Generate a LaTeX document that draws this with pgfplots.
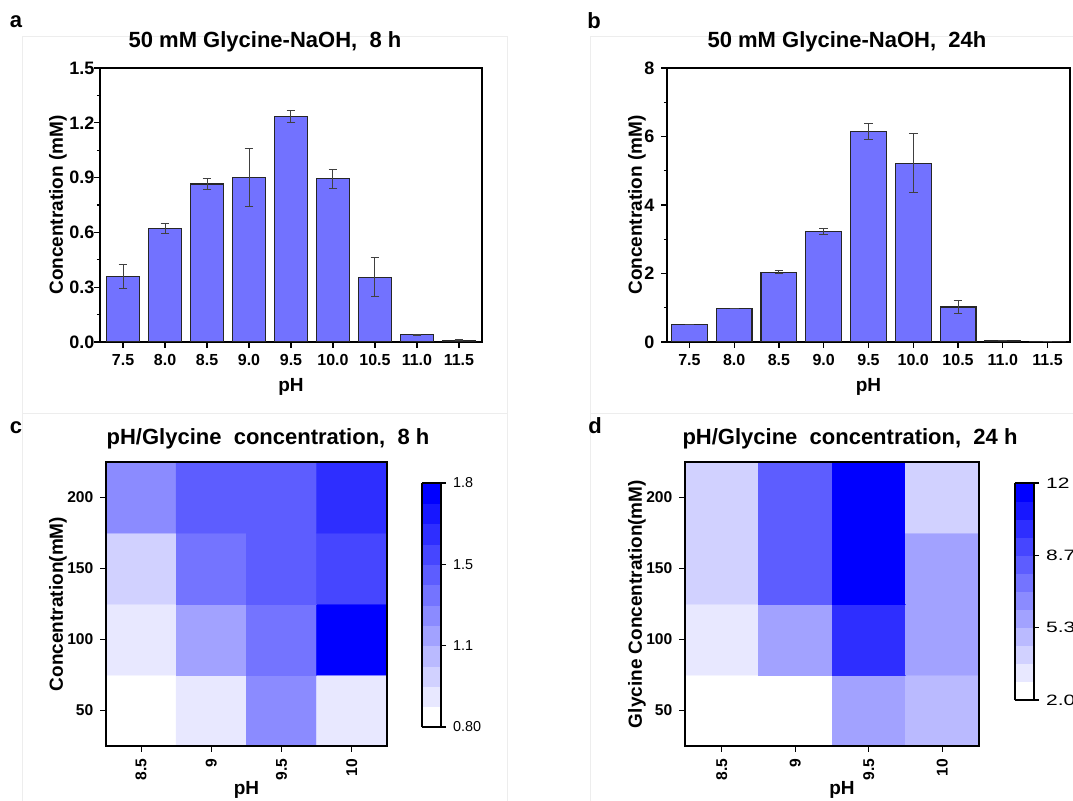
\documentclass[border=0pt]{standalone}
\usepackage{graphicx}
\usepackage{pgfplots}
\usepackage{pgfplotstable}
\pgfplotsset{compat=1.18}
\usepackage{fontspec}
\setmainfont{Liberation Sans}

\definecolor{barblue}{RGB}{114,114,255}

\pgfplotstableread{
x y err
0 0.36 0.065
1 0.62 0.028
2 0.865 0.03
3 0.90 0.16
4 1.235 0.035
5 0.895 0.052
6 0.355 0.105
7 0.04 0.003
8 0.01 0.004
}\dataA

\pgfplotstableread{
x y err
0 0.52 0.0
1 0.98 0.0
2 2.04 0.05
3 3.22 0.09
4 6.15 0.24
5 5.22 0.86
6 1.02 0.20
7 0.04 0.0
8 0.01 0.0
}\dataB

\pgfplotstableread{
x y c
8.5 50 0.84
9 50 0.92
9.5 50 1.26
10 50 0.92
8.5 100 0.92
9 100 1.17
9.5 100 1.34
10 100 1.76
8.5 150 1.01
9 150 1.34
9.5 150 1.42
10 150 1.51
8.5 200 1.26
9 200 1.42
9.5 200 1.42
10 200 1.59
}\dataC

\pgfplotstableread{
x y c
8.5 50 2.42
9 50 2.42
9.5 50 5.75
10 50 4.92
8.5 100 3.25
9 100 5.75
9.5 100 9.92
10 100 5.75
8.5 150 4.08
9 150 8.25
9.5 150 11.58
10 150 5.75
8.5 200 4.08
9 200 8.25
9.5 200 11.58
10 200 4.08
}\dataD

\pgfplotsset{
  colormap={wb}{rgb255=(255,255,255) rgb255=(232,232,255) rgb255=(209,209,255)
    rgb255=(186,186,255) rgb255=(162,162,255) rgb255=(139,139,255)
    rgb255=(116,116,255) rgb255=(93,93,255) rgb255=(70,70,255)
    rgb255=(46,46,255) rgb255=(23,23,255) rgb255=(0,0,255)},
  barax/.style={
    scale only axis,
    axis line style={line width=0.8pt},
    tick pos=left, tick align=outside,
    major tick length=2.8pt, minor tick length=1.6pt,
    every tick/.style={black, line width=0.6pt},
    xticklabel style={font=\bfseries\fontsize{8}{9}\selectfont},
    yticklabel style={font=\bfseries\fontsize{9}{10}\selectfont},
    /pgf/number format/assume math mode=true,
    label style={font=\bfseries\fontsize{9.5}{11}\selectfont},
    xtick={0,...,8},
    xticklabels={7.5,8.0,8.5,9.0,9.5,10.0,10.5,11.0,11.5},
    minor y tick num=1,
    ymin=0,
    xlabel={pH},
    ylabel={Concentration (mM)},
    xlabel style={at={(axis description cs:0.5,0)}, anchor=center, yshift=-22.5pt},
  },
  heatax/.style={
    scale only axis, axis on top,
    axis line style={line width=0.8pt},
    tick pos=left, tick align=outside,
    major tick length=2.8pt,
    every tick/.style={black, line width=0.6pt},
    ticklabel style={font=\bfseries\fontsize{7.8}{9}\selectfont},
    /pgf/number format/assume math mode=true,
    label style={font=\bfseries\fontsize{9.5}{11}\selectfont},
    xmin=8.25, xmax=10.25, ymin=25, ymax=225,
    xtick={8.5,9,9.5,10}, xticklabels={8.5,9,9.5,10},
    ytick={50,100,150,200},
    xticklabel style={rotate=90, anchor=east},
    xlabel={pH},
    xlabel style={at={(axis description cs:0.5,0)}, anchor=center, yshift=-22pt},
    colormap name=wb,
    colormap access=piecewise constant,
    colorbar,
  },
  barplot/.style={ybar, bar width=0.8, bar shift=0pt, fill=barblue, draw=black!85, line width=0.6pt,
    error bars/.cd, y dir=both, y explicit,
    error bar style={black!75, line width=0.5pt},
    error mark options={rotate=90, mark size=2.2pt, black!75, line width=0.5pt}},
}

\begin{document}
\begin{tikzpicture}[x=1pt,y=1pt]
\useasboundingbox (0,0) rectangle (536.5,400);
\clip (0,0) rectangle (536.5,400);

% faint panel frames
\draw[black!7, line width=0.5pt] (11,381.5) rectangle (253.5,193.5);
\draw[black!7, line width=0.5pt] (295,381.5) rectangle (540,193.5);
\draw[black!7, line width=0.5pt] (11,193.5) rectangle (253.5,-5);
\draw[black!7, line width=0.5pt] (295,193.5) rectangle (540,-5);

% panel labels and titles
\node[font=\bfseries\fontsize{11}{13}\selectfont] at (8,389) {a};
\node[font=\bfseries\fontsize{11}{13}\selectfont] at (297,389.5) {b};
\node[font=\bfseries\fontsize{11}{13}\selectfont] at (8,186) {c};
\node[font=\bfseries\fontsize{11}{13}\selectfont] at (297.5,187) {d};
\node[font=\bfseries\fontsize{11}{13}\selectfont] at (132.5,379) {50 mM Glycine-NaOH,\ \ 8 h};
\node[font=\bfseries\fontsize{11}{13}\selectfont] at (423.5,379) {50 mM Glycine-NaOH,\ \ 24h};
\node[font=\bfseries\fontsize{11}{13}\selectfont] at (134,180.5) {pH/Glycine\ \ concentration,\ \ 8 h};
\node[font=\bfseries\fontsize{11}{13}\selectfont] at (425,180.5) {pH/Glycine\ \ concentration,\ \ 24 h};

% panel a
\begin{axis}[barax, at={(50pt,229pt)}, anchor=south west, width=191pt, height=137pt,
  xmin=-0.55, xmax=8.55, ymax=1.5, ytick={0,0.3,0.6,0.9,1.2,1.5},
  yticklabel style={xshift=3.5pt, /pgf/number format/.cd, fixed, fixed zerofill, precision=1},
  ylabel style={at={(axis description cs:0,0.5)}, anchor=center, yshift=21pt}]
\addplot[barplot] table[x=x, y=y, y error=err] {\dataA};
\end{axis}

% panel b
\begin{axis}[barax, at={(333.5pt,229pt)}, anchor=south west, width=201.5pt, height=137pt,
  xmin=-0.5, xmax=8.5, ymax=8, ytick={0,2,4,6,8},
  ylabel style={at={(axis description cs:0,0.5)}, anchor=center, yshift=15pt}]
\addplot[barplot] table[x=x, y=y, y error=err] {\dataB};
\end{axis}

% panel c
\begin{axis}[heatax, at={(53pt,27pt)}, anchor=south west, width=140.5pt, height=142pt,
  ylabel={Concentration(mM)},
  ylabel style={at={(axis description cs:0,0.5)}, anchor=center, yshift=24pt},
  point meta min=0.8, point meta max=1.8,
  colorbar style={scale only axis, at={(parent axis.north east)}, anchor=north west,
    xshift=9pt, yshift=-10.5pt, width=9.5pt, height=122pt,
    ytick={0.8,1.13333,1.46667,1.8}, yticklabels={0.80,1.1,1.5,1.8},
    yticklabel style={font=\fontsize{7.2}{8}\selectfont},
    ytick pos=right, tick align=outside, major tick length=2.5pt,
    axis line style={line width=0.6pt}}]
\addplot[matrix plot*, mesh/cols=4, point meta=explicit] table[x=x, y=y, meta=c] {\dataC};
\end{axis}

% panel d
\begin{axis}[heatax, at={(342.5pt,27pt)}, anchor=south west, width=147pt, height=142pt,
  ylabel={Glycine Concentration(mM)},
  ylabel style={at={(axis description cs:0,0.5)}, anchor=center, yshift=24pt},
  xlabel style={xshift=5pt},
  point meta min=2, point meta max=12,
  colorbar style={scale only axis, at={(parent axis.north east)}, anchor=north west,
    xshift=9.5pt, yshift=-10.5pt, width=9.5pt, height=108.5pt,
    ytick={2,5.33333,8.66667,12},
    yticklabels={\scalebox{1.4}[1]{2.0},\scalebox{1.4}[1]{5.3},\scalebox{1.4}[1]{8.7},\scalebox{1.4}[1]{12}},
    yticklabel style={font=\fontsize{7.5}{8}\selectfont, anchor=west},
    ytick pos=right, tick align=outside, major tick length=2.5pt,
    axis line style={line width=0.6pt}}]
\addplot[matrix plot*, mesh/cols=4, point meta=explicit] table[x=x, y=y, meta=c] {\dataD};
\end{axis}
\end{tikzpicture}
\end{document}
